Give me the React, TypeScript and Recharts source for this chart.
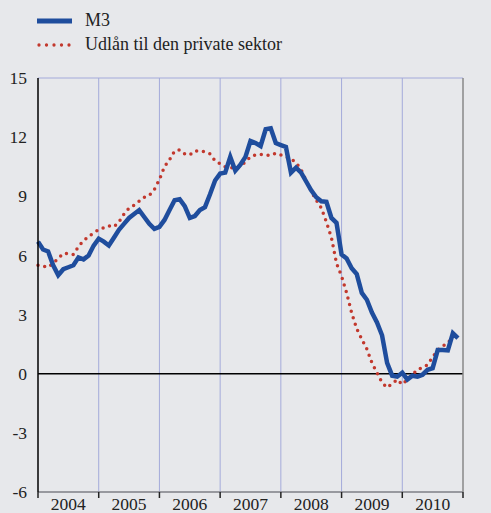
import React from "react";
import {
  LineChart,
  Line,
  XAxis,
  YAxis,
  CartesianGrid,
  ReferenceLine,
} from "recharts";

// monthly, Jan 2004 .. Dec 2010 (index = months since Jan 2004)
const years = ["2004", "2005", "2006", "2007", "2008", "2009", "2010"];

const m3 = [
  6.7, 6.3, 6.2, 5.5, 5.0, 5.3, 5.4, 5.5, 5.9, 5.8, 6.0, 6.5,
  6.85, 6.7, 6.5, 6.9, 7.3, 7.6, 7.9, 8.1, 8.3, 7.95, 7.6, 7.35,
  7.45, 7.8, 8.3, 8.8, 8.85, 8.5, 7.9, 8.0, 8.3, 8.45, 9.1, 9.8,
  10.15, 10.2, 11.0, 10.3, 10.6, 11.0, 11.8, 11.7, 11.55, 12.4, 12.45, 11.7,
  11.6, 11.5, 10.2, 10.45, 10.2, 9.75, 9.3, 8.95, 8.75, 8.72, 7.9, 7.65,
  6.05, 5.85, 5.35, 5.05, 4.1, 3.75, 3.1, 2.6, 1.95, 0.55, -0.1, -0.15,
  0.05, -0.3, -0.1, -0.15, -0.05, 0.2, 0.28, 1.2, 1.2, 1.18, 2.05, 1.8,
];

const udlan = [
  5.5, 5.45, 5.4, 5.6, 5.85, 6.1, 6.1, 6.05, 6.45, 6.75, 6.95, 7.15,
  7.3, 7.4, 7.5, 7.45, 7.7, 8.1, 8.4, 8.55, 8.75, 8.95, 9.05, 9.35,
  9.85, 10.5, 10.85, 11.3, 11.35, 11.15, 11.1, 11.3, 11.3, 11.25, 11.15, 10.8,
  10.65, 10.5, 10.45, 10.45, 10.5, 10.75, 11.0, 11.1, 11.12, 11.1, 11.07, 11.18,
  11.1, 11.0, 10.9, 10.7, 10.35, 9.8, 9.25, 8.8, 8.4, 7.7, 6.9, 5.6,
  4.95, 4.1, 3.08, 2.28, 1.75, 1.25, 0.55, 0.05, -0.45, -0.7, -0.5, -0.3,
  -0.55, -0.3, -0.05, 0.2, 0.32, 0.45, 0.85, 1.2, 1.4, 1.55, 1.9, null,
];

const yTicks = [-6, -3, 0, 3, 6, 9, 12, 15];
const yearBounds = [12, 24, 36, 48, 60, 72];
const xTicks = Array.from({ length: 15 }, (_, i) => i * 6);

const data = m3.map((v, i) => ({ t: i, m3: v, udlan: udlan[i] }));

const FONT = "'Liberation Serif', 'Times New Roman', serif";
const BLUE = "#1f4d9d";
const RED = "#c2382d";
const GRID = "#a4aada";

function YearTick(props: any) {
  const { x, y, payload } = props;
  const v = payload.value;
  if (v % 12 === 0) {
    return (
      <line x1={x} x2={x} y1={y - 8} y2={y - 2} stroke="#222" strokeWidth={1.5} />
    );
  }
  // baseline sits just above the bottom edge, as in the original
  return (
    <text
      x={x}
      y={y + 10}
      textAnchor="middle"
      fontFamily={FONT}
      fontSize={17.5}
      fill="#222"
    >
      {years[(v - 6) / 12]}
    </text>
  );
}

export default function App() {
  const tickStyle = { fontFamily: FONT, fontSize: 17.5, fill: "#222" };
  return (
    <div
      style={{
        position: "absolute",
        left: 0,
        top: 0,
        width: 491,
        height: 513,
        background: "#e7e8eb",
        fontFamily: FONT,
      }}
    >
      <div style={{ position: "absolute", left: 37, top: 8, color: "#222", fontSize: 18 }}>
        <div style={{ display: "flex", alignItems: "center", height: 25 }}>
          <svg width={36} height={8}>
            <line x1={0} x2={35} y1={4} y2={4} stroke={BLUE} strokeWidth={5} />
          </svg>
          <span style={{ marginLeft: 12 }}>M3</span>
        </div>
        <div style={{ display: "flex", alignItems: "center", height: 23 }}>
          <svg width={36} height={8}>
            <line
              x1={2}
              x2={35}
              y1={4}
              y2={4}
              stroke={RED}
              strokeWidth={3.3}
              strokeDasharray="0 7.5"
              strokeLinecap="round"
            />
          </svg>
          <span style={{ marginLeft: 12 }}>Udlån til den private sektor</span>
        </div>
      </div>
      <LineChart
        width={491}
        height={513}
        data={data}
        margin={{ top: 78, right: 0, bottom: 0, left: 0 }}
      >
        <CartesianGrid
          stroke={GRID}
          strokeWidth={1}
          verticalValues={yearBounds}
        />
        <XAxis
          dataKey="t"
          type="number"
          domain={[0, 84]}
          ticks={xTicks}
          interval={0}
          height={21}
          tickLine={false}
          tickSize={6}
          tickMargin={2}
          axisLine={{ stroke: "#888", strokeWidth: 1.5 }}
          tick={<YearTick />}
        />
        <YAxis
          yAxisId="l"
          domain={[-6, 15]}
          ticks={yTicks}
          interval={0}
          width={38}
          tickLine={false}
          tickSize={6}
          tickMargin={5}
          axisLine={{ stroke: "#000", strokeWidth: 1.5 }}
          tick={tickStyle}
        />
        <YAxis
          yAxisId="r"
          orientation="right"
          domain={[-6, 15]}
          ticks={yTicks}
          interval={0}
          width={28}
          tickLine={false}
          tickSize={6}
          tickMargin={5}
          axisLine={{ stroke: "#888", strokeWidth: 1.5 }}
          tick={{ ...tickStyle, textAnchor: "start" }}
        />
        <ReferenceLine yAxisId="l" y={0} stroke="#000" strokeWidth={1.5} />
        <Line
          yAxisId="l"
          type="linear"
          dataKey="udlan"
          stroke={RED}
          strokeWidth={3.5}
          strokeDasharray="0 6.8"
          strokeLinecap="round"
          dot={false}
          activeDot={false}
          isAnimationActive={false}
        />
        <Line
          yAxisId="l"
          type="linear"
          dataKey="m3"
          stroke={BLUE}
          strokeWidth={4.5}
          dot={false}
          activeDot={false}
          isAnimationActive={false}
        />
      </LineChart>
    </div>
  );
}
